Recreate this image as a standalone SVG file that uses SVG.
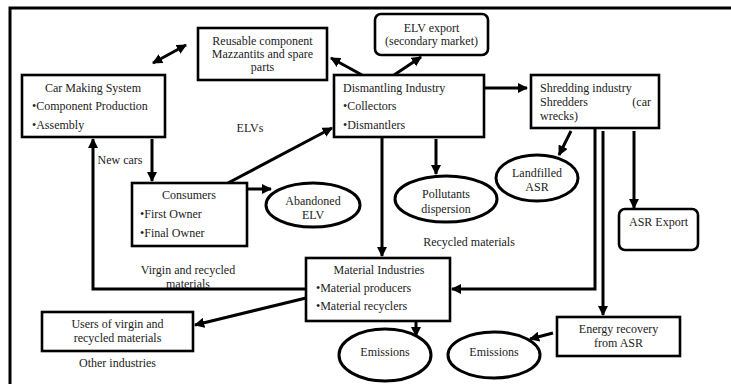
<svg xmlns="http://www.w3.org/2000/svg" width="731" height="384" viewBox="0 0 731 384" font-family="Liberation Serif, DejaVu Serif, serif">
<defs>
<marker id="ah" viewBox="0 0 10 10" refX="9" refY="5" markerWidth="3.4" markerHeight="3.4" orient="auto-start-reverse" markerUnits="strokeWidth">
<path d="M0,0 L10,5 L0,10 z" fill="#000"/>
</marker>
<style>
.box{fill:#fff;stroke:#000;stroke-width:2.6}
.ell{fill:#fff;stroke:#000;stroke-width:3}
.c{fill:none;stroke:#000;stroke-width:3}
.a{marker-end:url(#ah)}
text{font-family:'Liberation Serif','DejaVu Serif',serif;font-size:12px;fill:#222}
.m{text-anchor:middle}
</style>
</defs>
<rect x="0" y="0" width="731" height="384" fill="#fff"/>
<path d="M10,384 V8 H731" fill="none" stroke="#000" stroke-width="3"/>

<g id="connectors">
<line class="c" x1="153" y1="63" x2="186" y2="45" marker-start="url(#ah)" marker-end="url(#ah)"/>
<line class="c a" x1="362" y1="75" x2="331" y2="58"/>
<line class="c a" x1="394" y1="75" x2="421" y2="57"/>
<line class="c a" x1="484" y1="88" x2="527" y2="88"/>
<line class="c a" x1="152" y1="139" x2="152" y2="181"/>
<line class="c a" x1="228" y1="183" x2="332" y2="128"/>
<line class="c a" x1="247" y1="189" x2="271" y2="189"/>
<line class="c a" x1="436" y1="139" x2="436" y2="174"/>
<line class="c a" x1="382" y1="137" x2="382" y2="256"/>
<line class="c a" x1="571" y1="131" x2="559" y2="155"/>
<polyline class="c a" points="595,128 595,289 452,289"/>
<line class="c a" x1="603" y1="131" x2="603" y2="315"/>
<line class="c a" x1="634" y1="131" x2="634" y2="208"/>
<polyline class="c a" points="306,289 93,289 93,139"/>
<line class="c a" x1="306" y1="298" x2="195" y2="325"/>
<line class="c a" x1="416" y1="321" x2="416" y2="336"/>
<line class="c a" x1="553" y1="333" x2="530" y2="339"/>
</g>

<g id="car-making">
<rect class="box" x="22" y="75" width="143" height="62"/>
<text x="93" y="92" class="m">Car Making System</text>
<text x="32" y="110">•Component Production</text>
<text x="32" y="129">•Assembly</text>
</g>

<g id="reusable">
<rect class="box" x="198" y="28" width="129" height="52"/>
<text x="262.5" y="45" class="m">Reusable component</text>
<text x="262.5" y="58" class="m">Mazzantits and spare</text>
<text x="262.5" y="71" class="m">parts</text>
</g>

<g id="elv-export">
<rect class="box" x="375" y="14" width="113" height="41" rx="6" ry="6" stroke-width="1.8"/>
<text x="431.5" y="32" class="m">ELV export</text>
<text x="431.5" y="45" class="m">(secondary market)</text>
</g>

<g id="dismantling">
<rect class="box" x="334" y="75" width="150" height="62"/>
<text x="343" y="92">Dismantling Industry</text>
<text x="343" y="110">•Collectors</text>
<text x="343" y="129">•Dismantlers</text>
</g>

<g id="shredding">
<rect class="box" x="531" y="75" width="128" height="53"/>
<text x="540" y="92">Shredding industry</text>
<text x="540" y="106">Shredders</text>
<text x="651" y="106" text-anchor="end">(car</text>
<text x="540" y="120">wrecks)</text>
</g>

<g id="landfilled">
<ellipse class="ell" cx="537" cy="178" rx="41" ry="23"/>
<text x="537" y="177" class="m">Landfilled</text>
<text x="537" y="191" class="m">ASR</text>
</g>

<g id="consumers">
<rect class="box" x="132" y="183" width="115" height="63"/>
<text x="189" y="199" class="m">Consumers</text>
<text x="140" y="218">•First Owner</text>
<text x="140" y="237">•Final Owner</text>
</g>

<g id="abandoned">
<ellipse class="ell" cx="313" cy="205" rx="47" ry="22"/>
<text x="313" y="205" class="m">Abandoned</text>
<text x="313" y="219" class="m">ELV</text>
</g>

<g id="pollutants">
<ellipse class="ell" cx="446" cy="199" rx="51" ry="23"/>
<text x="446" y="198" class="m">Pollutants</text>
<text x="446" y="213" class="m">dispersion</text>
</g>

<g id="asr-export">
<rect class="box" x="619" y="209" width="79" height="41" rx="6" ry="6" stroke-width="1.8"/>
<text x="658.5" y="226" class="m">ASR Export</text>
</g>

<g id="material">
<rect class="box" x="306" y="258" width="144" height="63"/>
<text x="379" y="274" class="m">Material Industries</text>
<text x="316" y="292">•Material producers</text>
<text x="316" y="310">•Material recyclers</text>
</g>

<g id="users">
<rect class="box" x="42" y="312" width="151" height="39"/>
<text x="117.5" y="328" class="m">Users of virgin and</text>
<text x="117.5" y="342" class="m">recycled materials</text>
</g>

<g id="emissions1">
<ellipse class="ell" cx="385" cy="355" rx="46" ry="26"/>
<text x="385" y="356" class="m">Emissions</text>
</g>

<g id="emissions2">
<ellipse class="ell" cx="494" cy="355" rx="46" ry="23"/>
<text x="494" y="356" class="m">Emissions</text>
</g>

<g id="energy">
<rect class="box" x="557" y="317" width="123" height="39"/>
<text x="618.5" y="333" class="m">Energy recovery</text>
<text x="618.5" y="347" class="m">from ASR</text>
</g>

<g id="labels">
<text x="250" y="132" class="m">ELVs</text>
<text x="120" y="164" class="m">New cars</text>
<text x="188" y="274" class="m">Virgin and recycled</text>
<text x="188" y="288" class="m">materials</text>
<text x="469" y="246" class="m">Recycled materials</text>
<text x="117.5" y="367" class="m">Other industries</text>
</g>
</svg>
